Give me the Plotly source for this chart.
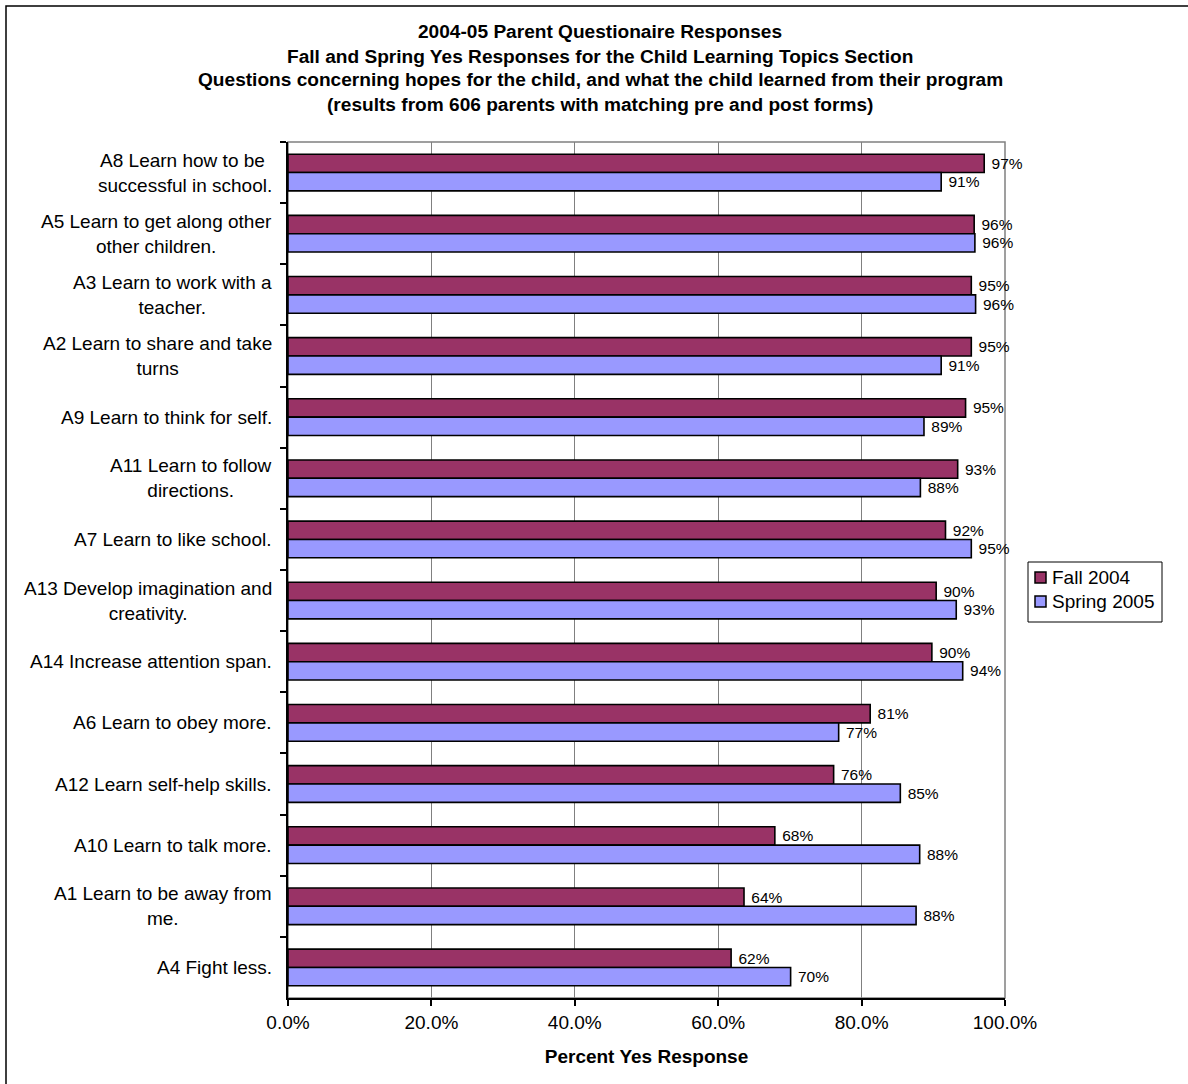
import plotly.graph_objects as go

# Child learning topics, listed top to bottom
topics = [
    "A8 Learn how to be <br>successful in school.",
    "A5 Learn to get along other<br>other children.",
    "A3 Learn to work with a<br>teacher.",
    "A2 Learn to share and take<br>turns",
    "A9 Learn to think for self.",
    "A11 Learn to follow<br>directions.",
    "A7 Learn to like school.",
    "A13 Develop imagination and<br>creativity.",
    "A14 Increase attention span.",
    "A6 Learn to obey more.",
    "A12 Learn self-help skills.",
    "A10 Learn to talk more.",
    "A1 Learn to be away from<br>me.",
    "A4 Fight less.",
]
codes = ["A8", "A5", "A3", "A2", "A9", "A11", "A7", "A13", "A14", "A6", "A12", "A10", "A1", "A4"]

# Share of parents answering "yes"
fall_2004 = [0.971, 0.957, 0.953, 0.953, 0.945, 0.934, 0.917, 0.904, 0.898, 0.812, 0.761, 0.679, 0.636, 0.618]
spring_2005 = [0.911, 0.958, 0.959, 0.911, 0.887, 0.882, 0.953, 0.932, 0.941, 0.768, 0.854, 0.881, 0.876, 0.701]

series_names = ["Fall 2004", "Spring 2005"]
series_colors = ["#993366", "#9999FF"]

x_ticks = [0, 0.2, 0.4, 0.6, 0.8, 1.0]

title_lines = [
    "2004-05 Parent Questionaire Responses",
    "Fall and Spring Yes Responses for the Child Learning Topics Section",
    "Questions concerning hopes for the child, and what the child learned from their program",
    "(results from 606 parents with matching pre and post forms)",
]

FONT = "Liberation Sans, Arial, Helvetica, sans-serif"

fig = go.Figure()
for name, vals, color in zip(series_names, [fall_2004, spring_2005], series_colors):
    fig.add_trace(go.Bar(
        name=name,
        y=codes,
        x=vals,
        orientation="h",
        marker=dict(color=color, line=dict(color="black", width=1.6)),
        texttemplate=" %{x:.0%}",
        textposition="outside",
        textfont=dict(size=15.5, color="black", family=FONT),
        constraintext="none",
        cliponaxis=False,
        showlegend=False,
        hovertemplate=name + ": %{x:.1%}<extra></extra>",
    ))

W, H = 1188, 1084
L, R, T, B = 288, 1005, 142, 998
pw, ph = R - L, B - T


def px_x(x):
    return (x - L) / pw


def px_y(y):
    return (B - y) / ph


shapes = [
    # plot area frame
    dict(type="rect", xref="paper", yref="paper", x0=0, x1=1, y0=0, y1=1,
         line=dict(color="#808080", width=1.5), layer="below"),
    # outer chart frame
    dict(type="rect", xref="paper", yref="paper",
         x0=px_x(6), x1=px_x(1200), y0=px_y(1100), y1=px_y(6),
         line=dict(color="black", width=1.5), layer="below"),
    # legend box
    dict(type="rect", xref="paper", yref="paper",
         x0=px_x(1028), x1=px_x(1162), y0=px_y(622), y1=px_y(562),
         line=dict(color="black", width=1), fillcolor="white"),
]

annotations = []

# chart title, one bold line per row
for i, line in enumerate(title_lines):
    annotations.append(dict(text="<b>" + line + "</b>", xref="paper", yref="paper",
                            x=px_x(600), y=px_y(32 + 24 * i),
                            xanchor="center", yanchor="middle", showarrow=False,
                            font=dict(size=19.1, color="black", family=FONT)))

# legend entries
for i, (name, color) in enumerate(zip(series_names, series_colors)):
    cy = 577.5 + 24 * i
    shapes.append(dict(type="rect", xref="paper", yref="paper",
                       x0=px_x(1035), x1=px_x(1046), y0=px_y(cy + 5.5), y1=px_y(cy - 5.5),
                       line=dict(color="black", width=1.5), fillcolor=color))
    annotations.append(dict(text=name, xref="paper", yref="paper",
                            x=px_x(1050), y=px_y(cy), xanchor="left", yanchor="middle",
                            showarrow=False, font=dict(size=19, color="black", family=FONT)))

# category labels, centred lines, right-aligned block
for code, label in zip(codes, topics):
    annotations.append(dict(text=label, xref="paper", yref="y", x=px_x(274), y=code,
                            xanchor="right", yanchor="middle", align="center",
                            showarrow=False,
                            font=dict(size=19, color="black", family=FONT)))

fig.update_layout(
    width=W, height=H,
    margin=dict(l=L, r=W - R, t=T, b=H - B, pad=0),
    paper_bgcolor="white", plot_bgcolor="white",
    barmode="group", bargap=0.4, bargroupgap=0,
    font=dict(family=FONT, color="black", size=19),
    xaxis=dict(
        range=[0, 1], tickvals=x_ticks, tickformat=".1%",
        showgrid=True, gridcolor="#808080", gridwidth=1,
        showline=True, linecolor="black", linewidth=1.5,
        ticks="outside", ticklen=6, tickcolor="black", tickwidth=1.5,
        tickfont=dict(size=19, family=FONT),
        zeroline=False,
        title=dict(text="<b>Percent Yes Response</b>", standoff=18,
                   font=dict(size=19, family=FONT)),
    ),
    yaxis=dict(
        categoryorder="array", categoryarray=codes, autorange="reversed",
        showticklabels=False, showgrid=False,
        showline=True, linecolor="black", linewidth=1.5,
        ticks="outside", ticklen=6, tickcolor="black", tickwidth=1.5,
        tickson="boundaries", zeroline=False,
    ),
    shapes=shapes,
    annotations=annotations,
)

fig.write_html("out.html")
